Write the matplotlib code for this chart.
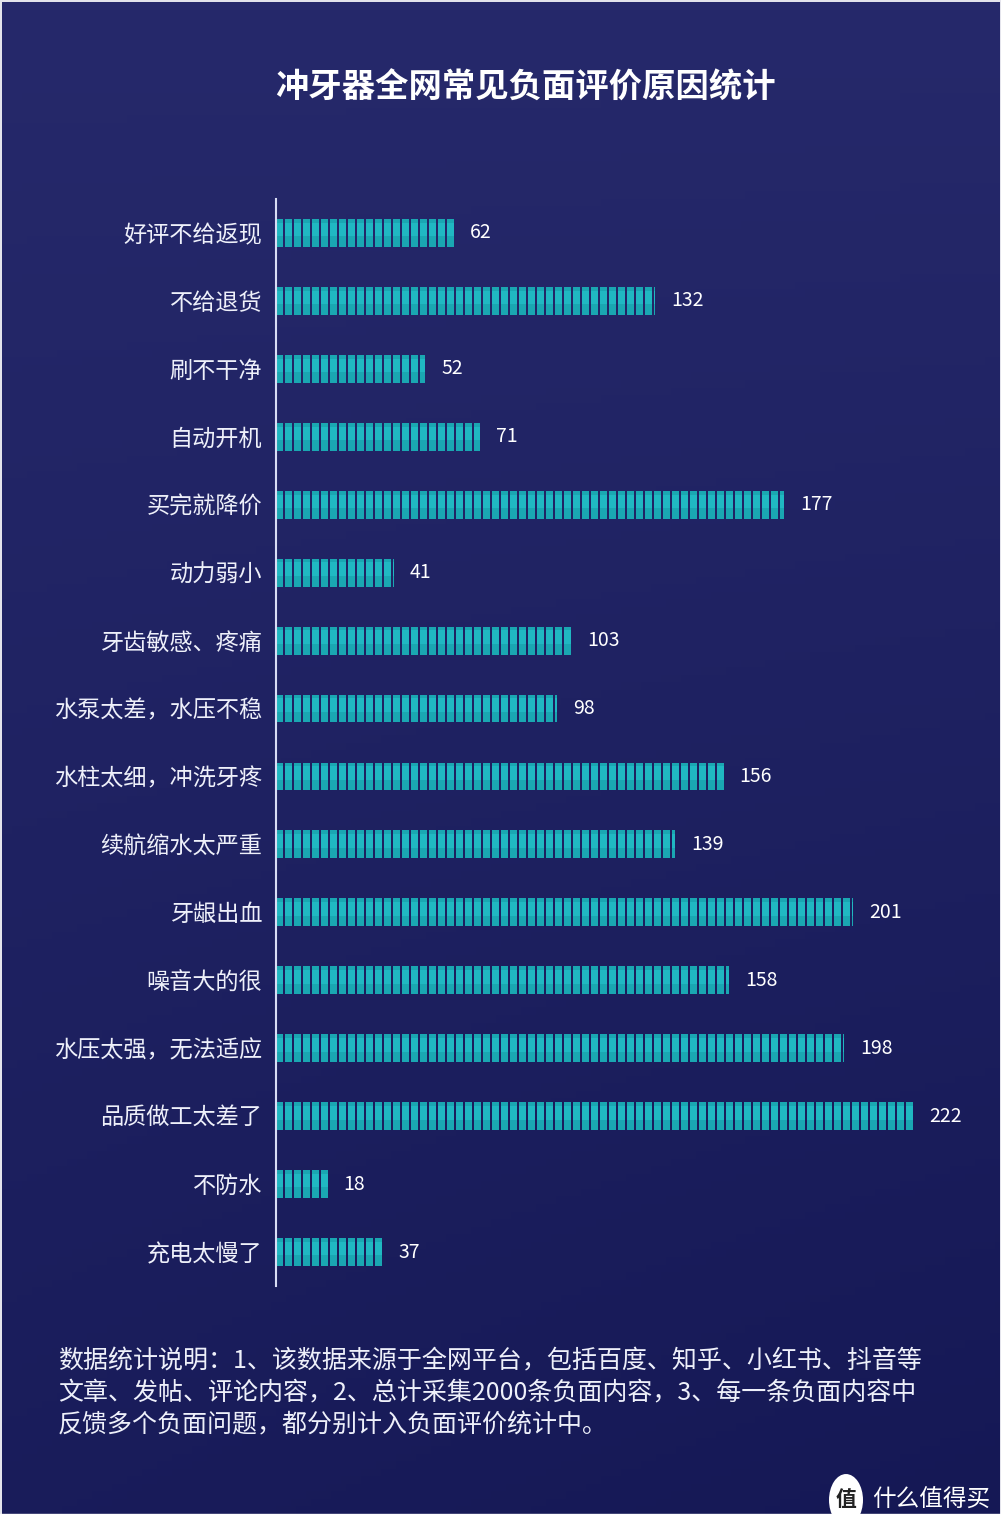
import matplotlib.pyplot as plt
import numpy as np
from matplotlib.patches import Circle

plt.rcParams["font.family"] = ["Noto Sans CJK SC", "DejaVu Sans"]

TITLE = "冲牙器全网常见负面评价原因统计"
CATEGORIES = [
    "好评不给返现", "不给退货", "刷不干净", "自动开机", "买完就降价", "动力弱小",
    "牙齿敏感、疼痛", "水泵太差，水压不稳", "水柱太细，冲洗牙疼", "续航缩水太严重",
    "牙龈出血", "噪音大的很", "水压太强，无法适应", "品质做工太差了", "不防水", "充电太慢了",
]
VALUES = [62, 132, 52, 71, 177, 41, 103, 98, 156, 139, 201, 158, 198, 222, 18, 37]
NOTE_LINES = [
    "数据统计说明：1、该数据来源于全网平台，包括百度、知乎、小红书、抖音等",
    "文章、发帖、评论内容，2、总计采集2000条负面内容，3、每一条负面内容中",
    "反馈多个负面问题，都分别计入负面评价统计中。",
]

W, H = 1001, 1529
fig = plt.figure(figsize=(W / 100, H / 100), dpi=100)
fig.patch.set_facecolor("#e4e4ec")

# background gradient panel
bg = fig.add_axes([2 / W, 1 - 1514 / H, 997 / W, 1512 / H])
bg.set_axis_off()
yy, xx = np.mgrid[0:1:200j, 0:1:200j]
top = np.array([0x26, 0x29, 0x6b]) / 255
bot = np.array([0x15, 0x18, 0x55]) / 255
t = np.clip(0.75 * yy + 0.25 * xx * yy, 0, 1)[..., None]
img = top * (1 - t) + bot * t
bg.imshow(img, aspect="auto", extent=[0, 1, 0, 1], origin="upper")
bg.set_xlim(0, 1)
bg.set_ylim(0, 1)

# bottom white strip
fig.patches.append(plt.Rectangle((0, 0), 1, 15 / H, transform=fig.transFigure,
                                 color="white", zorder=0))

px = 2.87  # pixels per unit
xmax = 250
ax = fig.add_axes([276 / W, 1 - 1286 / H, xmax * px / W, (1286 - 199) / H])
ax.patch.set_alpha(0)
n = len(CATEGORIES)
ys = np.arange(n)
period = 9 / px
segw = 7 / px
for y, v in zip(ys, VALUES):
    starts = np.arange(0, v, period)
    widths = np.minimum(segw, v - starts)
    ax.barh(np.full(len(starts), y), widths, left=starts, height=0.41,
            color="#1aa7b2", edgecolor="none")
    ax.barh(np.full(len(starts), y) - 0.05, widths, left=starts, height=0.2,
            color="#20b8c2", edgecolor="none")
    ax.text(v + 16 / px, y, str(v), color="white", fontsize=14,
            va="center", ha="left")

ax.set_xlim(0, xmax)
ax.set_ylim(n - 0.5, -0.5)
ax.set_yticks(ys)
ax.set_yticklabels(CATEGORIES, color="#eef0fa", fontsize=16.7)
ax.tick_params(axis="y", length=0, pad=10)
ax.set_xticks([])
for s in ["top", "right", "bottom"]:
    ax.spines[s].set_visible(False)
ax.spines["left"].set_color("#d8dcf4")
ax.spines["left"].set_linewidth(1.5)

fig.text(525 / W, 1 - 88 / H, TITLE, color="white", fontsize=24,
         fontweight="bold", ha="center", va="center")

for i, line in enumerate(NOTE_LINES):
    fig.text(58 / W, 1 - (1361 + 32 * i) / H, line, color="#eef0fa",
             fontsize=18, ha="left", va="center")

# watermark
fig.patches.append(Circle((846 / W, 1 - 1500 / H), 17 / W, transform=fig.transFigure,
                          facecolor="white", edgecolor="none", zorder=5))
fig.text(846 / W, 1 - 1500 / H, "值", color="#222", fontsize=15, fontweight="bold",
         ha="center", va="center", zorder=6)
fig.text(872 / W, 1 - 1500 / H, "什么值得买", color="white", fontsize=17,
         ha="left", va="center", zorder=6)

fig.savefig("out.png", dpi=100)
